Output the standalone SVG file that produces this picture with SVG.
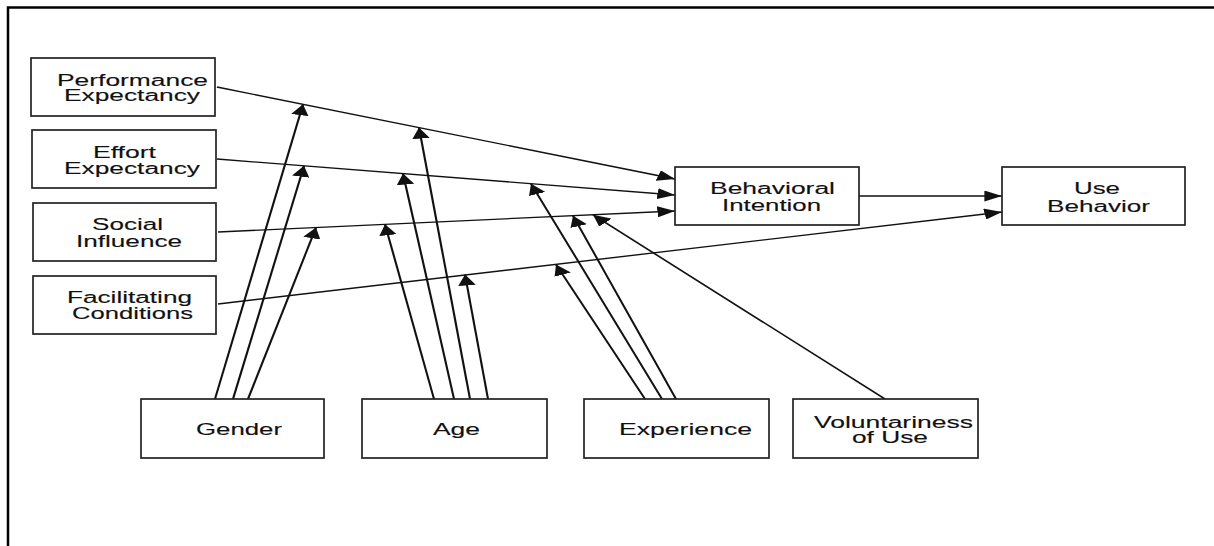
<svg xmlns="http://www.w3.org/2000/svg" width="1214" height="546" viewBox="0 0 1214 546">
  <style>
    .box { fill: #ffffff; stroke: #222222; stroke-width: 1.7; }
    .lbl { font-family: "Liberation Sans", Arial, sans-serif; font-size: 16px; fill: #111111; stroke: #111111; stroke-width: 0.12; }
    .edge { fill: none; stroke: #111111; stroke-width: 1.35; marker-end: url(#head); }
  </style>
  <defs>
    <!-- arrowhead defined in the horizontally compressed space of the connector layer -->
    <marker id="head" markerUnits="userSpaceOnUse" markerWidth="11" markerHeight="11" refX="11" refY="5.5" orient="auto">
      <path d="M0,0 L11,5.5 L0,11 Z" fill="#111111"/>
    </marker>
  </defs>

  <rect width="1214" height="546" fill="#ffffff"/>
  <!-- outer frame: top and left rules -->
  <path d="M8,546 V7.5 H1214" fill="none" stroke="#000000" stroke-width="2.5"/>

  <!-- connectors: drawn in a space scaled 1.6x horizontally -->
  <g id="connectors" transform="scale(1.6 1)">
    <line class="edge" x1="135.625" y1="87" x2="421.875" y2="179"/>
    <line class="edge" x1="135.625" y1="159" x2="421.875" y2="195"/>
    <line class="edge" x1="136.25" y1="232" x2="421.875" y2="211"/>
    <line class="edge" x1="136.25" y1="304" x2="626.25" y2="212"/>
    <line class="edge" x1="536.875" y1="196" x2="626.25" y2="196"/>
    <!-- gender moderations -->
    <line class="edge" x1="134.375" y1="399" x2="189.375" y2="104.3"/>
    <line class="edge" x1="145.625" y1="399" x2="190" y2="165.8"/>
    <line class="edge" x1="155" y1="399" x2="197.5" y2="227.5"/>
    <!-- age moderations -->
    <line class="edge" x1="271.25" y1="399" x2="240.625" y2="224.3"/>
    <line class="edge" x1="283.75" y1="399" x2="251.875" y2="173.6"/>
    <line class="edge" x1="293.75" y1="399" x2="261.875" y2="127.6"/>
    <line class="edge" x1="305" y1="399" x2="290.625" y2="274.5"/>
    <!-- experience moderations -->
    <line class="edge" x1="403.125" y1="399" x2="347.5" y2="264.4"/>
    <line class="edge" x1="413.75" y1="399" x2="331.875" y2="183.7"/>
    <line class="edge" x1="422.5" y1="399" x2="358.125" y2="215.7"/>
    <!-- voluntariness moderation -->
    <line class="edge" x1="553.125" y1="399" x2="370.625" y2="214.8"/>
  </g>

  <g id="performance-expectancy">
    <rect class="box" x="31" y="58" width="184" height="58"/>
    <text class="lbl" x="57" y="86" textLength="151" lengthAdjust="spacingAndGlyphs">Performance</text>
    <text class="lbl" x="64" y="101" textLength="136" lengthAdjust="spacingAndGlyphs">Expectancy</text>
  </g>
  <g id="effort-expectancy">
    <rect class="box" x="32" y="130" width="184" height="58"/>
    <text class="lbl" x="93" y="158" textLength="63" lengthAdjust="spacingAndGlyphs">Effort</text>
    <text class="lbl" x="64" y="174" textLength="136" lengthAdjust="spacingAndGlyphs">Expectancy</text>
  </g>
  <g id="social-influence">
    <rect class="box" x="33" y="203" width="183" height="58"/>
    <text class="lbl" x="92" y="230" textLength="71" lengthAdjust="spacingAndGlyphs">Social</text>
    <text class="lbl" x="76" y="247" textLength="106" lengthAdjust="spacingAndGlyphs">Influence</text>
  </g>
  <g id="facilitating-conditions">
    <rect class="box" x="33" y="276" width="183" height="58"/>
    <text class="lbl" x="67" y="303" textLength="125" lengthAdjust="spacingAndGlyphs">Facilitating</text>
    <text class="lbl" x="72" y="319" textLength="121" lengthAdjust="spacingAndGlyphs">Conditions</text>
  </g>
  <g id="behavioral-intention">
    <rect class="box" x="675" y="167" width="184" height="58"/>
    <text class="lbl" x="710" y="194" textLength="125" lengthAdjust="spacingAndGlyphs">Behavioral</text>
    <text class="lbl" x="722" y="211" textLength="99" lengthAdjust="spacingAndGlyphs">Intention</text>
  </g>
  <g id="use-behavior">
    <rect class="box" x="1002" y="167" width="183" height="58"/>
    <text class="lbl" x="1074" y="194" textLength="46" lengthAdjust="spacingAndGlyphs">Use</text>
    <text class="lbl" x="1047" y="212" textLength="103" lengthAdjust="spacingAndGlyphs">Behavior</text>
  </g>
  <g id="gender">
    <rect class="box" x="141" y="399" width="183" height="59"/>
    <text class="lbl" x="196" y="435" textLength="86" lengthAdjust="spacingAndGlyphs">Gender</text>
  </g>
  <g id="age">
    <rect class="box" x="362" y="399" width="185" height="59"/>
    <text class="lbl" x="433" y="435" textLength="47" lengthAdjust="spacingAndGlyphs">Age</text>
  </g>
  <g id="experience">
    <rect class="box" x="584" y="399" width="185" height="59"/>
    <text class="lbl" x="619" y="435" textLength="133" lengthAdjust="spacingAndGlyphs">Experience</text>
  </g>
  <g id="voluntariness-of-use">
    <rect class="box" x="793" y="399" width="185" height="59"/>
    <text class="lbl" x="814" y="428" textLength="159" lengthAdjust="spacingAndGlyphs">Voluntariness</text>
    <text class="lbl" x="852" y="443" textLength="76" lengthAdjust="spacingAndGlyphs">of Use</text>
  </g>
</svg>
